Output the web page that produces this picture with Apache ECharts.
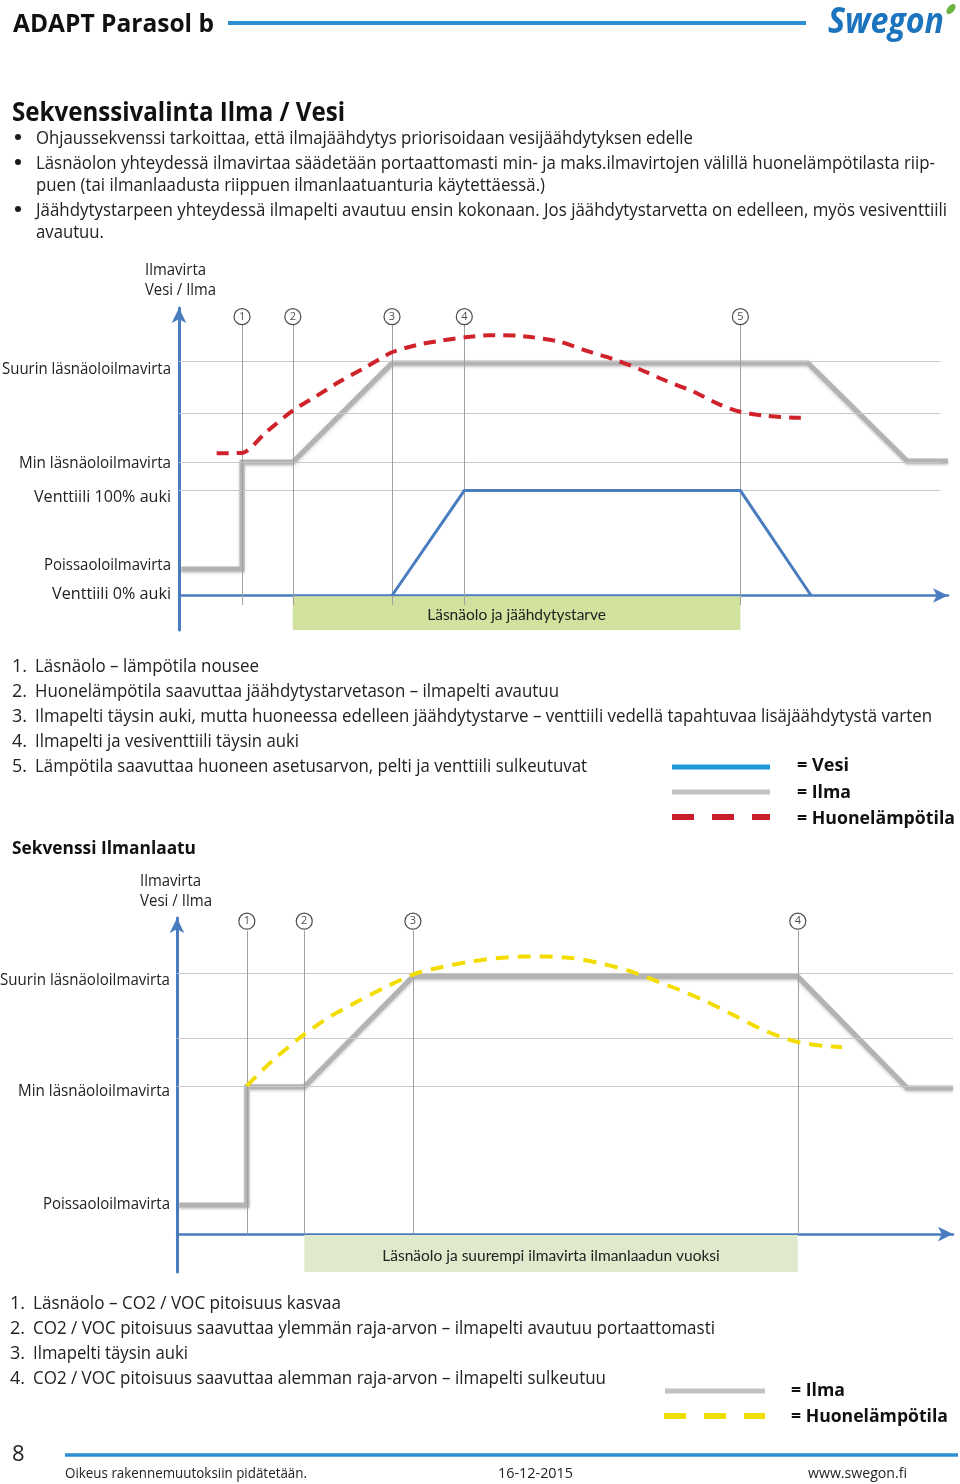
<!DOCTYPE html>
<html><head><meta charset="utf-8">
<script src="https://cdn.jsdelivr.net/npm/echarts@6/dist/echarts.min.js"></script>
<style>html,body{margin:0;padding:0;background:#fff}#c{width:960px;height:1484px}</style>
</head><body><div id="c"></div>
<script>
// ---------- Chart 1: Sekvenssivalinta Ilma / Vesi ----------
const c1Steps = ['1', '2', '3', '4', '5'];
const c1StepX = [8.2, 14.8, 27.7, 37.1, 73.0];
const c1CircleY = 97.0;
const c1MarkerRange = [-3.3, 94.2];
const c1GridY = [81.6, 63.5, 46.4, 36.7];
const c1LabelNames = ['Suurin läsnäoloilmavirta', 'Min läsnäoloilmavirta', 'Venttiili 100% auki', 'Poissaoloilmavirta', 'Venttiili 0% auki'];
const c1LabelY = [79.1, 46.4, 34.6, 11.2, 0.8];
const c1Ilma = [[0.3, 9.2], [8.2, 9.2], [8.2, 46.4], [14.8, 46.4], [27.7, 80.9], [81.8, 80.9], [94.7, 46.8], [100, 46.8]];
const c1Vesi = [[27.7, 0], [37.1, 36.5], [73.0, 36.5], [82.2, 0]];
const c1Temp = [[4.9, 49.5], [8.2, 49.6], [11.4, 57.0], [14.9, 64.5], [17.9, 69.4], [20.9, 74.4], [24.4, 79.6], [27.7, 84.6], [30.9, 87.1], [33.9, 88.6], [37.2, 89.8], [40.4, 90.5], [43.9, 90.4], [46.0, 89.8], [49.5, 88.3], [53.0, 85.1], [56.5, 82.2], [59.9, 78.7], [63.4, 74.6], [66.9, 70.9], [70.4, 66.3], [73.0, 63.9], [76.4, 62.5], [80.8, 61.8], [81.5, 61.8]];
const c1ZoneX = [14.8, 73.0];
const c1ZoneLabel = 'Läsnäolo ja jäähdytystarve';

// ---------- Chart 2: Sekvenssi Ilmanlaatu ----------
const c2Steps = ['1', '2', '3', '4'];
const c2StepX = [9.0, 16.4, 30.4, 80.0];
const c2CircleY = 99.0;
const c2MarkerRange = [0, 96.0];
const c2GridY = [82.6, 62.0, 46.85];
const c2LabelNames = ['Suurin läsnäoloilmavirta', 'Min läsnäoloilmavirta', 'Poissaoloilmavirta'];
const c2LabelY = [80.9, 45.8, 9.9];
const c2Ilma = [[0.3, 9.2], [9.0, 9.2], [9.0, 46.6], [16.4, 46.6], [30.4, 81.5], [80.0, 81.5], [94.1, 46.2], [100, 46.2]];
const c2Temp = [[9.0, 46.9], [12.4, 55.1], [16.3, 63.0], [19.7, 68.8], [23.2, 73.5], [26.6, 77.8], [30.5, 82.2], [34.3, 84.6], [37.8, 86.2], [41.2, 87.3], [44.6, 87.8], [47.6, 87.8], [51.1, 87.3], [54.5, 85.7], [58.0, 83.5], [61.4, 80.4], [64.8, 77.2], [68.3, 73.5], [71.7, 69.3], [75.1, 65.1], [78.1, 62.1], [80.3, 60.6], [83.3, 59.5], [85.7, 59.1]];
const c2ZoneX = [16.4, 80.0];
const c2ZoneLabel = 'Läsnäolo ja suurempi ilmavirta ilmanlaadun vuoksi';

// ---------- rendering ----------
const AXIS_BLUE = '#4a7dbf';
const FONT = '"Open Sans", "Noto Sans", sans-serif';
const TXT = '#222';
const DY = 1.5; // baseline correction for middle-aligned text
const chart = echarts.init(document.getElementById('c'), null, { renderer: 'canvas' });
const mctx = document.createElement('canvas').getContext('2d');

function T(text, x, y, size, w, o) {
  o = o || {};
  const font = (o.italic ? 'italic ' : '') + (o.bold ? 'bold ' : '') + size + 'px ' + (o.family || FONT);
  let sx = 1;
  if (w) { mctx.font = font; const m = mctx.measureText(text).width; if (m > 0) sx = w / m; }
  return { type: 'text', x: x, y: y + DY, scaleX: sx, z: 100,
    style: { text: text, font: font, fill: o.color || TXT, textAlign: o.align || 'left', textVerticalAlign: 'middle' } };
}

function xAx(gi) {
  return { gridIndex: gi, type: 'value', min: 0, max: 100,
    axisLine: { onZero: true, symbol: ['none', 'arrow'], symbolSize: [11, 15], lineStyle: { color: AXIS_BLUE, width: 2.5 } },
    axisTick: { show: false }, axisLabel: { show: false }, splitLine: { show: false } };
}
function yAx(gi) {
  return { gridIndex: gi, type: 'value', min: -12, max: 100,
    axisLine: { show: true, symbol: ['none', 'arrow'], symbolSize: [11, 15], lineStyle: { color: AXIS_BLUE, width: 3 } },
    axisTick: { show: false }, axisLabel: { show: false }, splitLine: { show: false } };
}

function chartSeries(gi, grids, gridEnd, stepX, steps, circleY, mRange, zoneX, zoneLabel, zoneColor, ilma, temp, tempColor, tempDash) {
  const s = [];
  s.push({ type: 'line', xAxisIndex: gi, yAxisIndex: gi, data: [], z: 1, silent: true,
    markLine: { silent: true, symbol: 'none', animation: false, label: { show: false },
      data: grids.map(v => [{ coord: [0, v], lineStyle: { color: '#c8c8c8', width: 1.2, type: 'solid' } }, { coord: [gridEnd, v] }])
        .concat(stepX.map(x => [{ coord: [x, mRange[0]], lineStyle: { color: '#a0a0a0', width: 1, type: 'solid' } }, { coord: [x, mRange[1]] }])) } });
  s.push({ type: 'line', xAxisIndex: gi, yAxisIndex: gi, data: [], z: 2, silent: true,
    markArea: { silent: true, itemStyle: { color: zoneColor },
      label: { show: true, position: 'inside', offset: [0, 2], color: '#222', fontSize: 15.5, fontFamily: 'Lato, "Open Sans", sans-serif' },
      data: [[{ coord: [zoneX[0], -0.3], name: zoneLabel }, { coord: [zoneX[1], -12] }]] } });
  s.push({ type: 'line', name: 'Ilma', xAxisIndex: gi, yAxisIndex: gi, data: ilma, symbol: 'none', clip: false, z: 4,
    lineStyle: { color: '#b3b3b3', width: 5, shadowColor: 'rgba(0,0,0,0.22)', shadowBlur: 3, shadowOffsetY: 1.5, cap: 'butt', join: 'miter' } });
  s.push({ type: 'line', name: 'Huonelämpötila', xAxisIndex: gi, yAxisIndex: gi, data: temp, symbol: 'none', clip: false, z: 6, smooth: 0.25,
    lineStyle: { color: tempColor, width: 4, type: tempDash, cap: 'butt' } });
  s.push({ type: 'scatter', xAxisIndex: gi, yAxisIndex: gi, clip: false, z: 8, symbol: 'circle', symbolSize: 16,
    data: stepX.map((x, i) => [x, circleY, steps[i]]),
    itemStyle: { color: '#fff', borderColor: '#222', borderWidth: 1.2 },
    label: { show: true, position: 'inside', formatter: p => p.value[2], color: '#222', fontSize: 11, fontFamily: FONT } });
  return s;
}

const series = [].concat(
  chartSeries(0, c1GridY, 99, c1StepX, c1Steps, c1CircleY, c1MarkerRange, c1ZoneX, c1ZoneLabel, '#d1e29e', c1Ilma, c1Temp, '#d0222b', [12, 8]),
  chartSeries(1, c2GridY, 100, c2StepX, c2Steps, c2CircleY, c2MarkerRange, c2ZoneX, c2ZoneLabel, '#dfe9cb', c2Ilma, c2Temp, '#f3dc00', [13, 9])
);
series.push({ type: 'line', name: 'Vesi', xAxisIndex: 0, yAxisIndex: 0, data: c1Vesi, symbol: 'none', clip: false, z: 5,
  lineStyle: { color: AXIS_BLUE, width: 3, join: 'miter' } });

chart.setOption({
  animation: false,
  backgroundColor: '#fff',
  grid: [
    { left: 179, top: 308, width: 769, height: 322 },
    { left: 177, top: 918, width: 776, height: 354 }
  ],
  xAxis: [xAx(0), xAx(1)],
  yAxis: [yAx(0), yAx(1)],
  series: series
});

// ---------- texts and page decoration ----------
const g = [];
// header
g.push(T('ADAPT Parasol b', 13, 23, 25, 201, { bold: true, color: '#111' }));
g.push({ type: 'line', shape: { x1: 228, y1: 23, x2: 806, y2: 23 }, style: { stroke: '#2b8fd2', lineWidth: 4 } });
g.push(T('Swegon', 828, 21, 36, 116, { bold: true, italic: true, color: '#1b74bd', family: '"Open Sans", sans-serif' }));
g.push({ type: 'circle', x: 951, y: 9, scaleX: 0.55, rotation: -0.7, shape: { cx: 0, cy: 0, r: 6 }, style: { fill: '#6db33f' } });

// intro
g.push(T('Sekvenssivalinta Ilma / Vesi', 12, 112, 27, 333, { bold: true, color: '#111' }));
[137, 162, 209].forEach(y => g.push({ type: 'circle', shape: { cx: 18, cy: y, r: 3 }, style: { fill: '#1a1a1a' } }));
g.push(T('Ohjaussekvenssi tarkoittaa, että ilmajäähdytys priorisoidaan vesijäähdytyksen edelle', 36, 137, 18, 657));
g.push(T('Läsnäolon yhteydessä ilmavirtaa säädetään portaattomasti min- ja maks.ilmavirtojen välillä huonelämpötilasta riip-', 36, 162, 18, 899));
g.push(T('puen (tai ilmanlaadusta riippuen ilmanlaatuanturia käytettäessä.)', 36, 184, 18, 509));
g.push(T('Jäähdytystarpeen yhteydessä ilmapelti avautuu ensin kokonaan. Jos jäähdytystarvetta on edelleen, myös vesiventtiili', 36, 209, 18, 911));
g.push(T('avautuu.', 36, 231, 18, 68));

// chart 1 axis title
g.push(T('Ilmavirta', 145, 269, 16, 61));
g.push(T('Vesi / Ilma', 145, 289, 16, 71));

// list 1
const list1 = [
  ['Läsnäolo – lämpötila nousee', 224],
  ['Huonelämpötila saavuttaa jäähdytystarvetason – ilmapelti avautuu', 524],
  ['Ilmapelti täysin auki, mutta huoneessa edelleen jäähdytystarve – venttiili vedellä tapahtuvaa lisäjäähdytystä varten', 897],
  ['Ilmapelti ja vesiventtiili täysin auki', 264],
  ['Lämpötila saavuttaa huoneen asetusarvon, pelti ja venttiili sulkeutuvat', 552]
];
list1.forEach((it, i) => { const y = 665 + 25 * i; g.push(T((i + 1) + '.', 12, y, 18)); g.push(T(it[0], 35, y, 18, it[1])); });

// legend 1
g.push({ type: 'line', shape: { x1: 672, y1: 767, x2: 770, y2: 767 }, style: { stroke: '#1d9ad8', lineWidth: 5 } });
g.push({ type: 'line', shape: { x1: 672, y1: 792, x2: 770, y2: 792 }, style: { stroke: '#c2c2c2', lineWidth: 5 } });
g.push({ type: 'line', shape: { x1: 672, y1: 817, x2: 770, y2: 817 }, style: { stroke: '#c8202a', lineWidth: 6, lineDash: [22, 18] } });
g.push(T('= Vesi', 797, 765, 17, 52, { bold: true, color: '#111' }));
g.push(T('= Ilma', 797, 792, 17, 54, { bold: true, color: '#111' }));
g.push(T('= Huonelämpötila', 797, 818, 17, 158, { bold: true, color: '#111' }));

// chart 2 header
g.push(T('Sekvenssi Ilmanlaatu', 12, 847, 18.5, 184, { bold: true, color: '#111' }));
g.push(T('Ilmavirta', 140, 880, 16, 61));
g.push(T('Vesi / Ilma', 140, 900, 16, 72));

// list 2
const list2 = [
  ['Läsnäolo – CO2 / VOC pitoisuus kasvaa', 308],
  ['CO2 / VOC pitoisuus saavuttaa ylemmän raja-arvon – ilmapelti avautuu portaattomasti', 682],
  ['Ilmapelti täysin auki', 155],
  ['CO2 / VOC pitoisuus saavuttaa alemman raja-arvon – ilmapelti sulkeutuu', 573]
];
list2.forEach((it, i) => { const y = 1302 + 25 * i; g.push(T((i + 1) + '.', 10, y, 18)); g.push(T(it[0], 33, y, 18, it[1])); });

// legend 2
g.push({ type: 'line', shape: { x1: 665, y1: 1391, x2: 765, y2: 1391 }, style: { stroke: '#c2c2c2', lineWidth: 5 } });
g.push({ type: 'line', shape: { x1: 664, y1: 1416, x2: 765, y2: 1416 }, style: { stroke: '#f0e000', lineWidth: 6, lineDash: [22, 18] } });
g.push(T('= Ilma', 791, 1390, 17, 54, { bold: true, color: '#111' }));
g.push(T('= Huonelämpötila', 791, 1416, 17, 157, { bold: true, color: '#111' }));

// footer
g.push(T('8', 12, 1453, 22));
g.push({ type: 'line', shape: { x1: 65, y1: 1455, x2: 958, y2: 1455 }, style: { stroke: '#2b8fd2', lineWidth: 3.5 } });
g.push(T('Oikeus rakennemuutoksiin pidätetään.', 65, 1472, 14.5, 242));
g.push(T('16-12-2015', 498, 1472, 14.5, 75));
g.push(T('www.swegon.fi', 808, 1472, 14.5, 99));

// y-axis category labels placed through the chart's own scales
const c1LabelW = [169, 152, 137, 127, 119];
const c2LabelW = [170, 152, 127];
c1LabelNames.forEach((n, i) => { const p = chart.convertToPixel({ gridIndex: 0 }, [0, c1LabelY[i]]); g.push(T(n, p[0] - 8, p[1], 16.5, c1LabelW[i], { align: 'right' })); });
c2LabelNames.forEach((n, i) => { const p = chart.convertToPixel({ gridIndex: 1 }, [0, c2LabelY[i]]); g.push(T(n, p[0] - 7, p[1], 16.5, c2LabelW[i], { align: 'right' })); });

chart.setOption({ graphic: { elements: g } });
</script>
</body></html>
